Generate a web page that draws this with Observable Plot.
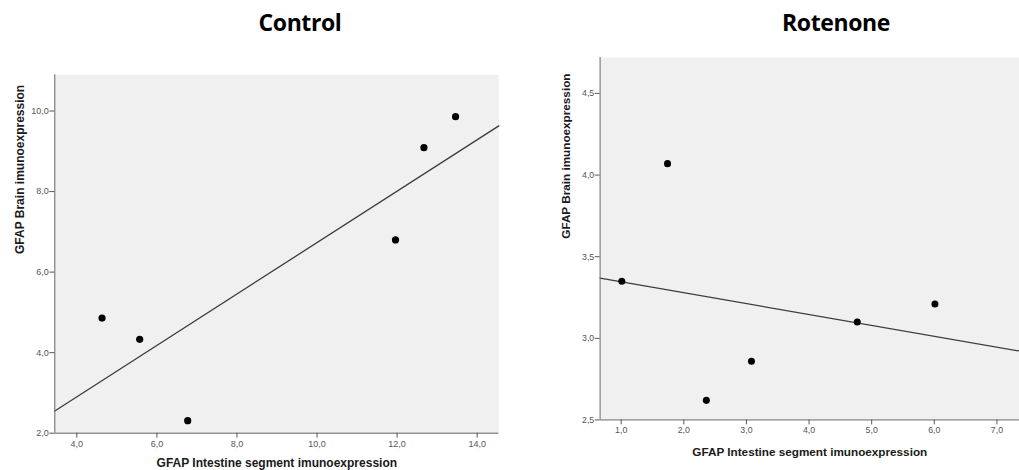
<!DOCTYPE html>
<html>
<head>
<meta charset="utf-8">
<script src="https://cdn.jsdelivr.net/npm/d3@7"></script>
<script src="https://cdn.jsdelivr.net/npm/@observablehq/plot@0.6"></script>
<style>
  html, body { margin: 0; padding: 0; background: #fff; width: 1019px; height: 470px; overflow: hidden; }
  .title { position: absolute; top: 6px; font-family: "Open Sans", sans-serif; font-weight: 700; font-size: 23px; letter-spacing: -0.4px; color: #000; transform: translateX(-50%); white-space: nowrap; }
  .panel { position: absolute; top: 45px; }
</style>
</head>
<body>
<div class="title" style="left:300px">Control</div>
<div class="title" style="left:836px">Rotenone</div>
<div id="left" class="panel" style="left:0px"></div>
<div id="right" class="panel" style="left:510px"></div>
<script>
// ---- Data ----
const xLabel = "GFAP Intestine segment imunoexpression";
const yLabel = "GFAP Brain imunoexpression";

const controlIntestine = [4.63, 5.57, 6.77, 11.96, 12.67, 13.46];
const controlBrain     = [4.86, 4.33, 2.31, 6.80, 9.09, 9.86];
const controlXTicks = [4, 6, 8, 10, 12, 14];
const controlYTicks = [2, 4, 6, 8, 10];

const rotenoneIntestine = [1.01, 1.74, 2.36, 3.08, 4.77, 6.01];
const rotenoneBrain     = [3.35, 4.07, 2.62, 2.86, 3.10, 3.21];
const rotenoneXTicks = [1, 2, 3, 4, 5, 6, 7];
const rotenoneYTicks = [2.5, 3.0, 3.5, 4.0, 4.5];

const fmt = d => d.toFixed(1).replace(".", ",");

function linreg(xs, ys) {
  const mx = d3.mean(xs), my = d3.mean(ys);
  let sxy = 0, sxx = 0;
  xs.forEach((x, i) => { sxy += (x - mx) * (ys[i] - my); sxx += (x - mx) ** 2; });
  const b = sxy / sxx;
  return {a: my - b * mx, b};
}

function panel({xs, ys, xTicks, yTicks, xDomain, yDomain, width, height, margins, xLabelDy}) {
  const pts = xs.map((x, i) => ({x, y: ys[i]}));
  const {a, b} = linreg(xs, ys);
  const fit = xDomain.map(x => ({x, y: a + b * x}));
  return Plot.plot({
    width, height,
    ...margins,
    style: {fontFamily: "'Liberation Sans', Arial, sans-serif", fontSize: "9px", background: "transparent"},
    x: {domain: xDomain},
    y: {domain: yDomain},
    marks: [
      Plot.frame({fill: "#f0f0f0", stroke: "none"}),
      Plot.line(fit, {x: "x", y: "y", stroke: "#3c3c3c", strokeWidth: 1.3}),
      Plot.dot(pts, {x: "x", y: "y", r: 3.6, fill: "#000", stroke: "none"}),
      Plot.ruleX([xDomain[0]], {stroke: "#666", strokeWidth: 1}),
      Plot.ruleY([yDomain[0]], {stroke: "#666", strokeWidth: 1}),
      Plot.axisX(xTicks, {tickFormat: fmt, tickSize: 5, tickPadding: 2, color: "#555", label: null}),
      Plot.axisY(yTicks, {tickFormat: fmt, tickSize: 5, tickPadding: 1, color: "#555", label: null}),
      Plot.text([xLabel], {frameAnchor: "bottom", dy: xLabelDy, fontWeight: "bold", fontSize: 12, fill: "#1a1a1a", lineAnchor: "middle"}),
      Plot.text([yLabel], {frameAnchor: "left", dx: -35, rotate: -90, fontWeight: "bold", fontSize: 12, fill: "#1a1a1a", lineAnchor: "middle"})
    ]
  });
}

document.getElementById("left").append(panel({
  xs: controlIntestine, ys: controlBrain, xTicks: controlXTicks, yTicks: controlYTicks,
  xDomain: [3.45, 14.54], yDomain: [2, 10.9],
  width: 510, height: 425,
  margins: {marginLeft: 54.3, marginRight: 11.7, marginTop: 29.3, marginBottom: 37.3},
  xLabelDy: 29.5
}));

document.getElementById("right").append(panel({
  xs: rotenoneIntestine, ys: rotenoneBrain, xTicks: rotenoneXTicks, yTicks: rotenoneYTicks,
  xDomain: [0.663, 7.36], yDomain: [2.5, 4.72],
  width: 521, height: 425,
  margins: {marginLeft: 91.7, marginRight: 0, marginTop: 12.3, marginBottom: 41.7},
  xLabelDy: 33
}));
</script>
</body>
</html>
